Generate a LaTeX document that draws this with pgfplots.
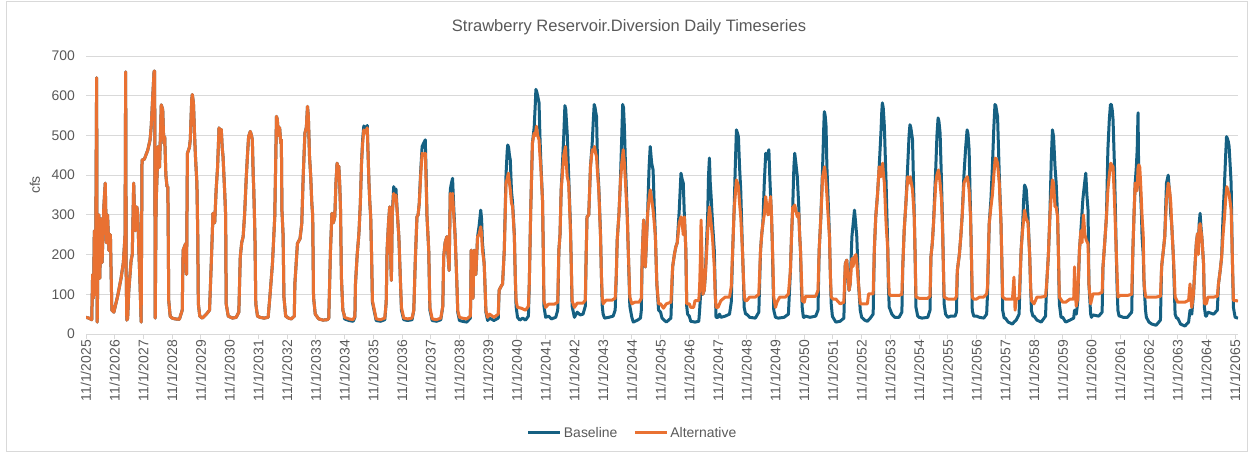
\documentclass[border=0pt]{standalone}
\usepackage{pgfplots}
\pgfplotsset{compat=1.18}
\usepackage{pgfplotstable}
\usepackage{fontspec}
\setmainfont{Liberation Sans}
\definecolor{base}{HTML}{156082}
\definecolor{alt}{HTML}{E97132}
\definecolor{txt}{HTML}{595959}
\definecolor{gridc}{HTML}{D9D9D9}

\pgfplotstableread[row sep=\\]{t v\\
0 42\\ 0.10 40\\ 0.20 36\\ 0.23 150\\ 0.26 90\\ 0.29 260\\ 0.33 100\\ 0.37 645\\ 0.39 30\\ 0.42 200\\ 0.45 300\\ 0.48 140\\ 0.52 290\\ 0.56 180\\ 0.62 320\\ 0.67 380\\ 0.71 230\\ 0.75 300\\ 0.80 210\\ 0.85 250\\ 0.87 170\\ 0.90 60\\ 0.97 55\\
1.10 95\\ 1.22 140\\ 1.30 180\\ 1.36 250\\ 1.38 660\\ 1.40 150\\ 1.42 35\\ 1.45 40\\ 1.49 110\\ 1.57 185\\ 1.61 200\\ 1.66 380\\ 1.69 300\\ 1.72 260\\ 1.77 320\\ 1.80 304\\ 1.84 211\\ 1.88 126\\ 1.92 30\\ 1.95 438\\
2.03 440\\ 2.15 463\\ 2.23 489\\ 2.27 522\\ 2.33 607\\ 2.37 662\\ 2.39 662\\ 2.41 40\\ 2.44 329\\ 2.51 472\\ 2.56 420\\ 2.62 577\\ 2.67 565\\ 2.71 480\\ 2.74 497\\ 2.78 400\\ 2.82 371\\ 2.85 371\\ 2.88 84\\ 2.93 45\\
3.00 40\\ 3.10 38\\ 3.25 37\\ 3.35 60\\ 3.38 211\\ 3.47 228\\ 3.50 150\\ 3.53 455\\ 3.60 470\\ 3.63 489\\ 3.68 590\\ 3.70 603\\ 3.74 582\\ 3.78 500\\ 3.81 447\\ 3.86 380\\ 3.89 250\\ 3.91 76\\ 3.96 45\\
4.05 40\\ 4.19 50\\ 4.30 60\\ 4.36 177\\ 4.42 304\\ 4.48 280\\ 4.53 363\\ 4.58 420\\ 4.63 519\\ 4.67 510\\ 4.71 515\\ 4.74 470\\ 4.77 447\\ 4.80 400\\ 4.83 354\\ 4.86 300\\ 4.88 76\\ 4.95 45\\
5.10 40\\ 5.23 42\\ 5.32 55\\ 5.37 194\\ 5.42 230\\ 5.47 245\\ 5.52 300\\ 5.58 396\\ 5.62 450\\ 5.66 497\\ 5.72 510\\ 5.76 500\\ 5.79 489\\ 5.82 400\\ 5.84 363\\ 5.88 250\\ 5.91 76\\ 5.97 45\\
6.05 42\\ 6.20 40\\ 6.34 42\\ 6.40 93\\ 6.49 177\\ 6.57 295\\ 6.60 420\\ 6.63 548\\ 6.66 540\\ 6.70 500\\ 6.74 520\\ 6.78 480\\ 6.80 489\\ 6.82 312\\ 6.86 250\\ 6.89 93\\ 6.95 45\\
7.05 40\\ 7.15 38\\ 7.25 45\\ 7.27 126\\ 7.36 228\\ 7.45 240\\ 7.51 278\\ 7.56 396\\ 7.62 506\\ 7.67 520\\ 7.71 573\\ 7.74 548\\ 7.78 447\\ 7.82 400\\ 7.86 329\\ 7.89 300\\ 7.92 93\\ 7.98 50\\
8.10 38\\ 8.25 35\\ 8.40 36\\ 8.45 40\\ 8.51 211\\ 8.56 304\\ 8.61 280\\ 8.66 295\\ 8.70 380\\ 8.74 430\\ 8.77 420\\ 8.80 422\\ 8.83 380\\ 8.86 312\\ 8.89 143\\ 8.94 60\\ 8.98 50\\
}\early

\pgfplotstableread[row sep=\\]{t v\\
8.98 50\\ 9.00 38\\ 9.15 34\\ 9.30 32\\ 9.36 42\\ 9.38 126\\ 9.44 200\\ 9.50 253\\ 9.55 330\\ 9.59 430\\ 9.63 490\\ 9.67 524\\ 9.70 515\\ 9.74 520\\ 9.79 525\\ 9.82 450\\ 9.85 380\\ 9.88 330\\ 9.91 295\\ 9.94 200\\ 9.97 80\\
10.10 34\\ 10.25 32\\ 10.40 36\\ 10.45 80\\ 10.48 211\\ 10.53 280\\ 10.57 320\\ 10.60 200\\ 10.63 135\\ 10.66 300\\ 10.71 371\\ 10.75 360\\ 10.79 365\\ 10.84 300\\ 10.89 245\\ 10.94 143\\ 10.98 60\\
11.06 36\\ 11.20 34\\ 11.35 36\\ 11.41 60\\ 11.46 180\\ 11.52 295\\ 11.56 300\\ 11.60 329\\ 11.65 410\\ 11.70 472\\ 11.75 480\\ 11.81 489\\ 11.84 400\\ 11.87 295\\ 11.93 211\\ 11.97 60\\
12.05 34\\ 12.20 32\\ 12.35 36\\ 12.42 70\\ 12.45 194\\ 12.50 230\\ 12.56 245\\ 12.60 200\\ 12.64 160\\ 12.68 363\\ 12.72 380\\ 12.76 392\\ 12.80 320\\ 12.85 245\\ 12.91 126\\ 12.94 55\\ 13.00 34\\
13.10 32\\ 13.25 30\\ 13.38 40\\ 13.41 211\\ 13.44 100\\ 13.47 90\\ 13.51 211\\ 13.57 150\\ 13.63 245\\ 13.68 270\\ 13.74 312\\ 13.77 290\\ 13.80 230\\ 13.86 177\\ 13.89 120\\ 13.92 55\\ 13.98 34\\
14.05 40\\ 14.20 34\\ 14.35 40\\ 14.38 110\\ 14.45 120\\ 14.50 126\\ 14.56 211\\ 14.62 400\\ 14.66 460\\ 14.68 476\\ 14.71 470\\ 14.74 450\\ 14.77 438\\ 14.81 360\\ 14.85 330\\ 14.91 250\\ 14.94 150\\ 14.97 70\\
15.02 42\\ 15.10 35\\ 15.20 40\\ 15.30 35\\ 15.40 45\\ 15.43 126\\ 15.48 312\\ 15.54 481\\ 15.60 520\\ 15.64 580\\ 15.66 616\\ 15.69 610\\ 15.72 600\\ 15.77 582\\ 15.80 500\\ 15.83 438\\ 15.89 337\\ 15.92 200\\ 15.94 70\\
16.00 42\\ 16.10 45\\ 16.20 38\\ 16.35 42\\ 16.42 60\\ 16.46 211\\ 16.50 250\\ 16.54 363\\ 16.58 420\\ 16.63 500\\ 16.67 575\\ 16.70 565\\ 16.72 540\\ 16.75 506\\ 16.80 400\\ 16.86 280\\ 16.89 180\\ 16.92 70\\
17.00 42\\ 17.10 55\\ 17.20 48\\ 17.30 50\\ 17.38 70\\ 17.41 200\\ 17.44 295\\ 17.50 300\\ 17.56 421\\ 17.62 480\\ 17.66 540\\ 17.69 578\\ 17.72 570\\ 17.74 560\\ 17.77 548\\ 17.81 420\\ 17.85 370\\ 17.91 250\\ 17.94 150\\ 17.97 70\\
18.00 50\\ 18.05 40\\ 18.20 42\\ 18.35 45\\ 18.42 60\\ 18.46 150\\ 18.49 236\\ 18.55 300\\ 18.60 380\\ 18.65 500\\ 18.68 578\\ 18.71 570\\ 18.74 523\\ 18.78 421\\ 18.84 300\\ 18.88 200\\ 18.93 70\\
19.00 42\\ 19.05 30\\ 19.20 35\\ 19.30 40\\ 19.33 60\\ 19.36 194\\ 19.41 287\\ 19.44 200\\ 19.47 169\\ 19.52 260\\ 19.55 304\\ 19.60 420\\ 19.64 472\\ 19.69 430\\ 19.74 413\\ 19.78 320\\ 19.82 245\\ 19.87 126\\ 19.93 60\\
20.00 55\\ 20.05 40\\ 20.20 30\\ 20.36 40\\ 20.42 169\\ 20.48 200\\ 20.53 219\\ 20.58 230\\ 20.65 312\\ 20.71 405\\ 20.75 390\\ 20.79 380\\ 20.83 295\\ 20.88 211\\ 20.91 70\\ 20.94 50\\
21.00 45\\ 21.05 32\\ 21.20 30\\ 21.33 32\\ 21.36 60\\ 21.41 120\\ 21.47 100\\ 21.52 110\\ 21.56 150\\ 21.60 228\\ 21.64 300\\ 21.67 400\\ 21.70 443\\ 21.73 380\\ 21.76 346\\ 21.81 278\\ 21.87 211\\ 21.90 120\\ 21.93 42\\
22.00 42\\ 22.05 50\\ 22.10 42\\ 22.25 45\\ 22.40 50\\ 22.46 80\\ 22.51 211\\ 22.56 312\\ 22.60 420\\ 22.64 514\\ 22.68 505\\ 22.71 497\\ 22.75 420\\ 22.79 363\\ 22.85 211\\ 22.88 150\\ 22.91 67\\ 22.96 50\\
23.00 50\\ 23.10 42\\ 23.30 40\\ 23.42 55\\ 23.48 211\\ 23.52 250\\ 23.56 278\\ 23.61 380\\ 23.66 455\\ 23.70 440\\ 23.74 455\\ 23.77 464\\ 23.80 400\\ 23.83 346\\ 23.86 300\\ 23.89 228\\ 23.92 120\\ 23.94 60\\
24.00 42\\ 24.10 40\\ 24.30 42\\ 24.45 50\\ 24.52 160\\ 24.56 250\\ 24.60 320\\ 24.64 420\\ 24.67 455\\ 24.71 430\\ 24.76 396\\ 24.81 320\\ 24.84 250\\ 24.87 211\\ 24.90 120\\ 24.93 67\\ 24.97 42\\
25.00 42\\ 25.05 45\\ 25.20 42\\ 25.40 45\\ 25.48 60\\ 25.52 211\\ 25.58 295\\ 25.64 420\\ 25.68 520\\ 25.70 560\\ 25.73 550\\ 25.76 523\\ 25.79 420\\ 25.82 363\\ 25.88 245\\ 25.91 150\\ 25.94 76\\ 25.98 45\\
26.00 42\\ 26.10 30\\ 26.25 32\\ 26.38 40\\ 26.43 177\\ 26.48 186\\ 26.52 150\\ 26.56 110\\ 26.60 126\\ 26.66 245\\ 26.72 290\\ 26.75 312\\ 26.79 280\\ 26.83 245\\ 26.89 126\\ 26.95 60\\
27.00 42\\ 27.10 35\\ 27.20 32\\ 27.30 40\\ 27.40 50\\ 27.44 211\\ 27.49 295\\ 27.55 350\\ 27.61 421\\ 27.67 506\\ 27.70 560\\ 27.72 582\\ 27.75 570\\ 27.79 523\\ 27.85 380\\ 27.91 211\\ 27.93 120\\ 27.96 67\\
28.00 60\\ 28.05 50\\ 28.15 42\\ 28.30 42\\ 28.40 55\\ 28.43 169\\ 28.48 261\\ 28.54 330\\ 28.60 420\\ 28.65 500\\ 28.68 527\\ 28.71 520\\ 28.73 510\\ 28.77 489\\ 28.83 300\\ 28.86 200\\ 28.89 67\\ 28.95 45\\
29.00 42\\ 29.10 40\\ 29.30 42\\ 29.38 60\\ 29.41 194\\ 29.46 230\\ 29.50 278\\ 29.58 420\\ 29.62 500\\ 29.66 544\\ 29.69 535\\ 29.73 506\\ 29.78 380\\ 29.82 260\\ 29.85 150\\ 29.87 76\\ 29.92 50\\
30.00 42\\ 30.10 45\\ 30.25 45\\ 30.30 55\\ 30.33 160\\ 30.40 200\\ 30.45 245\\ 30.50 300\\ 30.56 400\\ 30.62 470\\ 30.67 514\\ 30.70 505\\ 30.74 464\\ 30.79 300\\ 30.82 200\\ 30.85 59\\ 30.90 45\\
31.00 45\\ 31.10 42\\ 31.25 40\\ 31.35 50\\ 31.38 100\\ 31.44 278\\ 31.50 340\\ 31.55 421\\ 31.60 520\\ 31.64 578\\ 31.67 575\\ 31.70 560\\ 31.73 548\\ 31.79 400\\ 31.85 278\\ 31.88 180\\ 31.91 59\\ 31.96 40\\
32.00 40\\ 32.10 30\\ 32.25 25\\ 32.30 30\\ 32.38 35\\ 32.48 50\\ 32.52 150\\ 32.55 211\\ 32.60 270\\ 32.64 340\\ 32.67 375\\ 32.70 370\\ 32.73 363\\ 32.79 295\\ 32.85 194\\ 32.88 120\\ 32.91 59\\ 32.96 45\\
33.00 45\\ 33.10 35\\ 33.25 30\\ 33.40 45\\ 33.44 126\\ 33.50 200\\ 33.55 295\\ 33.60 440\\ 33.64 514\\ 33.68 497\\ 33.73 421\\ 33.77 380\\ 33.82 295\\ 33.85 200\\ 33.88 76\\ 33.94 42\\
34.00 42\\ 34.10 30\\ 34.25 35\\ 34.38 40\\ 34.41 60\\ 34.47 50\\ 34.52 80\\ 34.58 211\\ 34.63 260\\ 34.70 340\\ 34.76 380\\ 34.80 405\\ 34.84 350\\ 34.88 312\\ 34.91 126\\ 34.97 50\\
35.00 42\\ 35.05 48\\ 35.25 45\\ 35.37 55\\ 35.40 169\\ 35.46 230\\ 35.52 295\\ 35.57 464\\ 35.62 540\\ 35.66 578\\ 35.69 578\\ 35.72 565\\ 35.75 540\\ 35.80 421\\ 35.86 211\\ 35.89 120\\ 35.92 59\\ 35.96 45\\
36.00 45\\ 36.10 42\\ 36.25 42\\ 36.40 55\\ 36.44 211\\ 36.48 300\\ 36.52 380\\ 36.56 420\\ 36.59 464\\ 36.62 557\\ 36.64 420\\ 36.68 380\\ 36.71 354\\ 36.74 300\\ 36.76 245\\ 36.80 200\\ 36.83 126\\ 36.88 60\\ 36.91 42\\
37.00 30\\ 37.10 25\\ 37.25 22\\ 37.40 35\\ 37.44 169\\ 37.50 210\\ 37.55 245\\ 37.61 380\\ 37.67 400\\ 37.70 370\\ 37.73 346\\ 37.76 300\\ 37.79 278\\ 37.85 194\\ 37.88 120\\ 37.91 50\\ 37.96 40\\
38.00 40\\ 38.10 25\\ 38.25 20\\ 38.38 30\\ 38.43 60\\ 38.49 50\\ 38.55 100\\ 38.60 169\\ 38.65 230\\ 38.69 253\\ 38.72 220\\ 38.75 280\\ 38.78 304\\ 38.81 270\\ 38.84 245\\ 38.90 177\\ 38.93 67\\ 38.97 45\\
39.00 45\\ 39.05 55\\ 39.25 50\\ 39.38 60\\ 39.42 126\\ 39.48 160\\ 39.53 194\\ 39.58 300\\ 39.63 380\\ 39.67 450\\ 39.70 497\\ 39.73 492\\ 39.76 485\\ 39.79 472\\ 39.83 420\\ 39.86 380\\ 39.90 200\\ 39.94 67\\ 40.00 42\\ 40.10 40\\
}\basetab

\pgfplotstableread[row sep=\\]{t v\\
8.98 50\\ 9.00 42\\ 9.15 38\\ 9.30 36\\ 9.36 45\\ 9.38 126\\ 9.44 200\\ 9.50 253\\ 9.55 330\\ 9.59 430\\ 9.63 480\\ 9.67 514\\ 9.70 505\\ 9.74 510\\ 9.79 519\\ 9.82 450\\ 9.85 380\\ 9.88 330\\ 9.91 295\\ 9.94 200\\ 9.97 84\\
10.10 38\\ 10.25 36\\ 10.40 40\\ 10.45 80\\ 10.48 211\\ 10.53 280\\ 10.57 320\\ 10.60 200\\ 10.63 135\\ 10.66 300\\ 10.71 354\\ 10.75 340\\ 10.79 350\\ 10.84 300\\ 10.89 245\\ 10.94 143\\ 10.98 67\\
11.06 40\\ 11.20 38\\ 11.35 40\\ 11.41 60\\ 11.46 180\\ 11.52 295\\ 11.56 300\\ 11.60 329\\ 11.65 400\\ 11.70 455\\ 11.75 450\\ 11.81 455\\ 11.84 380\\ 11.87 295\\ 11.93 211\\ 11.97 67\\
12.05 38\\ 12.20 36\\ 12.35 40\\ 12.42 70\\ 12.45 194\\ 12.50 230\\ 12.56 245\\ 12.60 200\\ 12.64 160\\ 12.68 354\\ 12.72 340\\ 12.76 354\\ 12.80 300\\ 12.85 245\\ 12.91 126\\ 12.94 59\\ 13.00 42\\
13.10 40\\ 13.25 38\\ 13.38 45\\ 13.41 211\\ 13.44 100\\ 13.47 90\\ 13.51 211\\ 13.57 150\\ 13.63 245\\ 13.68 250\\ 13.74 270\\ 13.77 250\\ 13.80 211\\ 13.86 177\\ 13.89 120\\ 13.92 59\\ 13.98 42\\
14.05 50\\ 14.20 42\\ 14.35 50\\ 14.38 110\\ 14.45 120\\ 14.50 126\\ 14.56 211\\ 14.62 380\\ 14.66 390\\ 14.70 405\\ 14.74 380\\ 14.77 363\\ 14.81 330\\ 14.85 320\\ 14.91 245\\ 14.94 150\\ 14.97 84\\
15.02 67\\ 15.15 65\\ 15.30 60\\ 15.40 70\\ 15.43 126\\ 15.48 312\\ 15.54 481\\ 15.60 506\\ 15.64 500\\ 15.68 523\\ 15.72 500\\ 15.77 489\\ 15.80 450\\ 15.83 421\\ 15.89 337\\ 15.92 200\\ 15.94 84\\
16.00 67\\ 16.10 75\\ 16.30 75\\ 16.42 80\\ 16.46 211\\ 16.50 250\\ 16.54 363\\ 16.58 400\\ 16.63 450\\ 16.69 472\\ 16.72 430\\ 16.75 396\\ 16.80 380\\ 16.86 270\\ 16.89 180\\ 16.92 84\\
17.00 67\\ 17.10 78\\ 17.30 78\\ 17.38 85\\ 17.41 200\\ 17.44 295\\ 17.50 300\\ 17.56 421\\ 17.62 464\\ 17.66 460\\ 17.70 472\\ 17.74 455\\ 17.77 447\\ 17.81 400\\ 17.85 363\\ 17.91 245\\ 17.94 150\\ 17.97 93\\
18.00 76\\ 18.10 85\\ 18.30 85\\ 18.42 90\\ 18.46 150\\ 18.49 236\\ 18.55 300\\ 18.60 380\\ 18.65 430\\ 18.70 464\\ 18.74 430\\ 18.78 380\\ 18.84 295\\ 18.88 200\\ 18.93 93\\
19.00 76\\ 19.10 80\\ 19.25 80\\ 19.33 90\\ 19.36 194\\ 19.41 287\\ 19.44 200\\ 19.47 169\\ 19.52 250\\ 19.55 304\\ 19.60 340\\ 19.64 363\\ 19.69 340\\ 19.74 312\\ 19.78 280\\ 19.82 245\\ 19.87 126\\ 19.93 76\\
20.00 76\\ 20.10 65\\ 20.20 76\\ 20.36 80\\ 20.42 169\\ 20.48 200\\ 20.53 219\\ 20.58 230\\ 20.65 280\\ 20.71 295\\ 20.75 280\\ 20.79 250\\ 20.83 295\\ 20.88 211\\ 20.91 76\\
21.00 76\\ 21.05 67\\ 21.15 67\\ 21.20 84\\ 21.33 84\\ 21.36 120\\ 21.39 200\\ 21.41 287\\ 21.44 200\\ 21.47 100\\ 21.52 110\\ 21.56 150\\ 21.60 200\\ 21.64 260\\ 21.70 320\\ 21.73 300\\ 21.76 278\\ 21.81 240\\ 21.87 169\\ 21.90 100\\ 21.93 67\\
22.00 67\\ 22.10 84\\ 22.25 93\\ 22.40 93\\ 22.46 120\\ 22.51 211\\ 22.56 312\\ 22.60 350\\ 22.64 388\\ 22.68 380\\ 22.71 371\\ 22.75 330\\ 22.79 295\\ 22.85 211\\ 22.88 150\\ 22.91 101\\ 22.94 84\\
23.00 84\\ 23.10 93\\ 23.30 93\\ 23.42 100\\ 23.48 211\\ 23.52 250\\ 23.56 278\\ 23.61 300\\ 23.66 346\\ 23.70 320\\ 23.74 300\\ 23.77 304\\ 23.80 330\\ 23.83 346\\ 23.86 300\\ 23.89 228\\ 23.92 150\\ 23.94 93\\
24.00 67\\ 24.05 80\\ 24.15 93\\ 24.35 93\\ 24.45 101\\ 24.52 160\\ 24.56 250\\ 24.60 320\\ 24.64 310\\ 24.67 325\\ 24.71 310\\ 24.76 295\\ 24.81 304\\ 24.84 250\\ 24.87 211\\ 24.90 150\\ 24.93 84\\
25.00 80\\ 25.05 95\\ 25.20 95\\ 25.40 95\\ 25.48 110\\ 25.52 211\\ 25.58 295\\ 25.64 396\\ 25.68 410\\ 25.71 421\\ 25.74 400\\ 25.76 380\\ 25.79 350\\ 25.82 312\\ 25.88 245\\ 25.91 150\\ 25.94 93\\
26.00 88\\ 26.10 88\\ 26.25 76\\ 26.38 80\\ 26.43 177\\ 26.48 186\\ 26.52 150\\ 26.56 110\\ 26.60 126\\ 26.66 190\\ 26.70 170\\ 26.75 194\\ 26.80 200\\ 26.83 180\\ 26.89 126\\ 26.95 76\\
27.00 76\\ 27.10 76\\ 27.20 76\\ 27.24 101\\ 27.40 101\\ 27.44 211\\ 27.49 295\\ 27.55 350\\ 27.61 421\\ 27.67 396\\ 27.70 420\\ 27.73 430\\ 27.76 400\\ 27.79 380\\ 27.85 278\\ 27.91 211\\ 27.93 150\\ 27.96 101\\
28.00 97\\ 28.10 97\\ 28.30 97\\ 28.40 100\\ 28.43 169\\ 28.48 261\\ 28.54 330\\ 28.60 396\\ 28.65 380\\ 28.69 396\\ 28.73 380\\ 28.77 363\\ 28.83 295\\ 28.86 200\\ 28.89 93\\
29.00 90\\ 29.10 90\\ 29.30 90\\ 29.38 95\\ 29.41 194\\ 29.46 230\\ 29.50 278\\ 29.58 380\\ 29.62 400\\ 29.67 413\\ 29.70 400\\ 29.73 380\\ 29.78 337\\ 29.82 250\\ 29.85 150\\ 29.87 93\\
30.00 88\\ 30.10 88\\ 30.25 88\\ 30.30 95\\ 30.33 160\\ 30.40 200\\ 30.45 245\\ 30.50 300\\ 30.56 380\\ 30.62 390\\ 30.68 396\\ 30.71 380\\ 30.74 363\\ 30.79 295\\ 30.82 200\\ 30.85 93\\ 30.90 88\\
31.00 88\\ 31.10 93\\ 31.25 93\\ 31.35 101\\ 31.38 120\\ 31.44 278\\ 31.50 320\\ 31.55 350\\ 31.60 400\\ 31.65 443\\ 31.69 440\\ 31.73 430\\ 31.79 380\\ 31.85 278\\ 31.88 180\\ 31.91 93\\
32.00 88\\ 32.10 88\\ 32.25 88\\ 32.30 143\\ 32.34 60\\ 32.38 88\\ 32.48 90\\ 32.52 150\\ 32.55 211\\ 32.60 260\\ 32.64 290\\ 32.67 312\\ 32.70 300\\ 32.73 290\\ 32.79 280\\ 32.85 194\\ 32.88 120\\ 32.91 84\\
33.00 76\\ 33.10 93\\ 33.25 93\\ 33.40 95\\ 33.44 126\\ 33.50 200\\ 33.55 295\\ 33.60 350\\ 33.64 388\\ 33.68 380\\ 33.73 320\\ 33.77 320\\ 33.82 295\\ 33.85 200\\ 33.88 93\\
34.00 80\\ 34.10 80\\ 34.25 88\\ 34.38 88\\ 34.41 169\\ 34.44 100\\ 34.47 70\\ 34.52 90\\ 34.58 211\\ 34.63 260\\ 34.67 230\\ 34.72 300\\ 34.77 250\\ 34.82 236\\ 34.88 227\\ 34.91 126\\ 34.97 76\\
35.00 85\\ 35.05 101\\ 35.25 101\\ 35.37 105\\ 35.40 169\\ 35.46 230\\ 35.52 295\\ 35.57 363\\ 35.62 400\\ 35.67 430\\ 35.71 425\\ 35.75 421\\ 35.80 337\\ 35.86 211\\ 35.89 150\\ 35.92 93\\
36.00 97\\ 36.10 97\\ 36.25 97\\ 36.40 100\\ 36.44 211\\ 36.48 300\\ 36.52 380\\ 36.56 360\\ 36.59 363\\ 36.62 420\\ 36.65 426\\ 36.68 420\\ 36.71 380\\ 36.76 295\\ 36.80 250\\ 36.83 126\\ 36.88 95\\ 36.91 93\\
37.00 93\\ 37.10 93\\ 37.25 93\\ 37.40 95\\ 37.44 169\\ 37.50 210\\ 37.55 245\\ 37.61 337\\ 37.67 380\\ 37.70 370\\ 37.73 354\\ 37.76 330\\ 37.79 278\\ 37.85 194\\ 37.88 150\\ 37.91 93\\
38.00 80\\ 38.10 80\\ 38.25 80\\ 38.38 85\\ 38.43 126\\ 38.46 90\\ 38.49 67\\ 38.55 100\\ 38.60 169\\ 38.65 230\\ 38.69 253\\ 38.72 200\\ 38.75 270\\ 38.78 278\\ 38.81 260\\ 38.84 245\\ 38.90 177\\ 38.93 76\\
39.00 76\\ 39.05 93\\ 39.25 93\\ 39.38 95\\ 39.42 126\\ 39.48 160\\ 39.53 194\\ 39.58 250\\ 39.63 295\\ 39.67 340\\ 39.71 371\\ 39.75 360\\ 39.79 354\\ 39.83 330\\ 39.86 312\\ 39.90 200\\ 39.94 84\\ 40.05 84\\ 40.10 82\\
}\alttab

\begin{document}
\begin{tikzpicture}
\path[use as bounding box] (0,0) rectangle (1249bp,453bp);
\draw[gridc, line width=1bp] (6.5bp,1.5bp) rectangle (1247.5bp,451.5bp);
\node[text=txt, font=\fontsize{16.6}{19}\selectfont] at (629bp,426bp) {Strawberry Reservoir.Diversion Daily Timeseries};
\begin{axis}[
  at={(86bp,119bp)}, anchor=south west,
  scale only axis, width=1152bp, height=278bp,
  xmin=0, xmax=40.1, ymin=0, ymax=700,
  axis x line*=bottom, axis y line*=left,
  x axis line style={gridc, line width=1bp, -},
  y axis line style={draw=none},
  xtick={0,...,40},
  xticklabels={11/1/2025,11/1/2026,11/1/2027,11/1/2028,11/1/2029,11/1/2030,11/1/2031,11/1/2032,11/1/2033,11/1/2034,11/1/2035,11/1/2036,11/1/2037,11/1/2038,11/1/2039,11/1/2040,11/1/2041,11/1/2042,11/1/2043,11/1/2044,11/1/2045,11/1/2046,11/1/2047,11/1/2048,11/1/2049,11/1/2050,11/1/2051,11/1/2052,11/1/2053,11/1/2054,11/1/2055,11/1/2056,11/1/2057,11/1/2058,11/1/2059,11/1/2060,11/1/2061,11/1/2062,11/1/2063,11/1/2064,11/1/2065},
  ytick={0,100,...,700},
  ymajorgrids, grid style={gridc, line width=1bp},
  tick align=outside, major tick length=5bp,
  xtick style={gridc, line width=1bp},
  ytick style={draw=none},
  ticklabel style={text=txt, font=\fontsize{14}{16}\selectfont},
  xticklabel style={rotate=90, anchor=east, inner sep=0pt, xshift=-1bp},
  yticklabel style={anchor=east, inner sep=0pt, xshift=-6bp},
  /pgf/number format/assume math mode=true,
  ylabel={cfs},
  every axis y label/.style={at={(axis description cs:-0.0443,0.536)}, rotate=90, anchor=center, text=txt, font=\fontsize{14}{16}\selectfont},
  legend style={at={(0.4745,-0.356)}, anchor=center, draw=none, fill=none, text=txt, font=\fontsize{14}{16}\selectfont, legend columns=2, /tikz/every even column/.append style={column sep=14bp}},
  legend image code/.code={\draw[#1, line width=3bp] (0bp,0bp) -- (32bp,0bp);},
  line join=round,
]
\addplot[base, line width=3bp, forget plot] table {\early};
\addplot[base, line width=3bp] table {\basetab};
\addlegendentry{Baseline}
\addplot[alt, line width=3bp, forget plot] table {\early};
\addplot[alt, line width=3bp] table {\alttab};
\addlegendentry{Alternative}
\end{axis}
\end{tikzpicture}
\end{document}
